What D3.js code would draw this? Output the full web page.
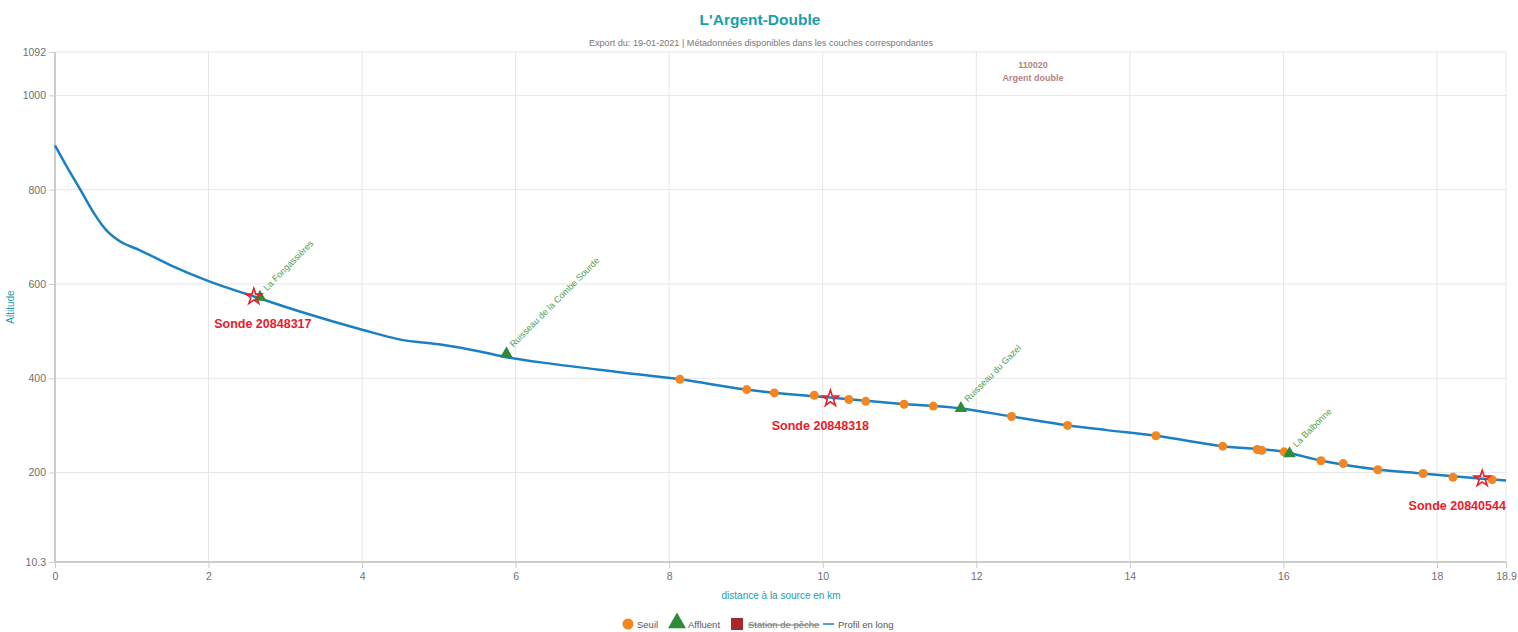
<!DOCTYPE html>
<html>
<head>
<meta charset="utf-8">
<script src="https://cdn.jsdelivr.net/npm/d3@7"></script>
<style>
  html, body { margin: 0; padding: 0; background: #fff; }
  svg { display: block; font-family: "Liberation Sans", Arial, sans-serif; }
</style>
</head>
<body>
<svg id="chart" width="1518" height="632"></svg>
<script>
// Longitudinal profile of the river: distance from source (km) and altitude (m)
const profileKm  = [0, 0.15, 0.33, 0.5, 0.68, 0.85, 1.1, 1.5, 2.0, 2.6, 3.2, 4.0, 4.5, 5.0, 5.5, 5.9, 6.5, 7.3, 8.14, 9.0, 10.1, 11.0, 11.8, 12.46, 13.2, 13.7, 14.34, 15.2, 16.0, 16.5, 17.2, 17.8, 18.6, 18.9];
const profileAlt = [894, 850, 800, 752, 712, 690, 672, 640, 606, 573, 541, 503, 482, 472, 458, 444, 430, 414, 398, 376, 359, 346, 336, 319, 300, 290, 278, 256, 244, 225, 207, 198, 187, 183];

// Weirs (Seuil)
const seuilKm  = [8.14, 9.01, 9.37, 9.89, 10.34, 10.56, 11.06, 11.44, 12.46, 13.19, 14.34, 15.21, 15.66, 15.72, 16.01, 16.49, 16.78, 17.23, 17.82, 18.21, 18.72];
const seuilAlt = [398, 376, 369, 364, 355, 351, 345, 341, 319, 300, 278, 256, 249, 247, 244, 225, 219, 206, 198, 190, 185];

// Tributaries (Affluent)
const affluentNames = ["La Fongassières", "Ruisseau de la Combe Sourde", "Ruisseau du Gazel", "La Balbonne"];
const affluentKm    = [2.67, 5.88, 11.8, 16.08];
const affluentAlt   = [572, 452, 336, 240];

// Temperature probes (Sonde)
const sondeNames = ["Sonde 20848317", "Sonde 20848318", "Sonde 20840544"];
const sondeKm    = [2.59, 10.1, 18.59];
const sondeAlt   = [573, 357, 187];

// Axis ticks
const xTicks = [0, 2, 4, 6, 8, 10, 12, 14, 16, 18, 18.9];
const yTicks = [10.3, 200, 400, 600, 800, 1000, 1092];

// Legend entries
const legendLabels = ["Seuil", "Affluent", "Station de pêche", "Profil en long"];

// Label layout (horizontal shift of each probe label)
const sondeLabelDx = [9, -10, -25];

const colors = {
  line: "#1b7fc4", seuil: "#f5861f", affluent: "#2e8b3a", station: "#a52a2a",
  sonde: "#e8202a", teal: "#1a9eab", grid: "#e6e6e6", axis: "#cccccc", tick: "#707070"
};

const svg = d3.select("#chart");
const margin = { left: 55, right: 1506, top: 52, bottom: 562 };

const x = d3.scaleLinear().domain([0, 18.9]).range([margin.left, margin.right]);
const y = d3.scaleLinear().domain([10.3, 1092]).range([margin.bottom, margin.top]);

// Title and subtitle
svg.append("text").attr("x", 760).attr("y", 25).attr("text-anchor", "middle")
  .attr("font-size", 15.5).attr("font-weight", "bold").attr("fill", colors.teal)
  .text("L'Argent-Double");
svg.append("text").attr("x", 761).attr("y", 46).attr("text-anchor", "middle")
  .attr("font-size", 9.1).attr("fill", "#777")
  .text("Export du: 19-01-2021 | Métadonnées disponibles dans les couches correspondantes");

// Grid lines
const grid = svg.append("g");
grid.selectAll("line.v").data(xTicks.slice(1)).join("line")
  .attr("x1", d => x(d)).attr("x2", d => x(d))
  .attr("y1", margin.top).attr("y2", margin.bottom)
  .attr("stroke", colors.grid).attr("stroke-width", 1);
grid.selectAll("line.h").data(yTicks.slice(1)).join("line")
  .attr("x1", margin.left).attr("x2", margin.right)
  .attr("y1", d => y(d)).attr("y2", d => y(d))
  .attr("stroke", colors.grid).attr("stroke-width", 1);

// Axes
const xAxis = d3.axisBottom(x).tickValues(xTicks).tickSize(6).tickPadding(5)
  .tickFormat(d => d3.format("~g")(d));
const gx = svg.append("g").attr("transform", `translate(0,${margin.bottom})`).call(xAxis);
const yAxis = d3.axisLeft(y).tickValues(yTicks).tickSize(6).tickPadding(3)
  .tickFormat(d => d3.format("~g")(d));
const gy = svg.append("g").attr("transform", `translate(${margin.left},0)`).call(yAxis);
[gx, gy].forEach(g => {
  g.select(".domain").attr("stroke", colors.axis).attr("stroke-width", 2);
  g.selectAll(".tick line").attr("stroke", colors.axis);
  g.selectAll(".tick text").attr("fill", colors.tick).attr("font-size", 10.5)
    .attr("font-family", "Liberation Sans, Arial, sans-serif");
});
gy.select(".domain").attr("d", `M0,${margin.top}V${margin.bottom}`);
gx.select(".domain").attr("d", `M${margin.left},0H${margin.right}`);

// Axis titles
svg.append("text").attr("transform", `translate(14,307) rotate(-90)`)
  .attr("text-anchor", "middle").attr("font-size", 10).attr("fill", colors.teal)
  .text("Altitude");
svg.append("text").attr("x", 781).attr("y", 599).attr("text-anchor", "middle")
  .attr("font-size", 10).attr("fill", colors.teal)
  .text("distance à la source en km");

// Water body code annotation
svg.append("text").attr("x", 1033).attr("y", 68).attr("text-anchor", "middle")
  .attr("font-size", 9).attr("font-weight", "bold").attr("fill", "#b58282").text("110020");
svg.append("text").attr("x", 1033).attr("y", 81).attr("text-anchor", "middle")
  .attr("font-size", 9).attr("font-weight", "bold").attr("fill", "#b58282").text("Argent double");

// Profile line
const profile = profileKm.map((k, i) => [k, profileAlt[i]]);
const line = d3.line().x(d => x(d[0])).y(d => y(d[1])).curve(d3.curveMonotoneX);
svg.append("path").datum(profile).attr("d", line)
  .attr("fill", "none").attr("stroke", colors.line).attr("stroke-width", 2.5);

// Weirs
svg.append("g").selectAll("circle").data(seuilKm.map((k, i) => [k, seuilAlt[i]])).join("circle")
  .attr("cx", d => x(d[0])).attr("cy", d => y(d[1])).attr("r", 4.5)
  .attr("fill", colors.seuil);

// Tributaries
const tri = d3.symbol().type(d3.symbolTriangle).size(70);
const aff = svg.append("g").selectAll("g").data(affluentNames.map((n, i) => ({ n, k: affluentKm[i], a: affluentAlt[i] }))).join("g")
  .attr("transform", d => `translate(${x(d.k)},${y(d.a)})`);
aff.append("path").attr("d", tri).attr("fill", colors.affluent);
aff.append("text").attr("transform", "translate(7,-6) rotate(-45)")
  .attr("font-size", 9).attr("fill", "#4f9e4f").text(d => d.n);

// Probes
const star = d3.symbol().type(d3.symbolStar).size(80);
const sondes = svg.append("g").selectAll("g").data(sondeNames.map((n, i) => ({ n, k: sondeKm[i], a: sondeAlt[i], dx: sondeLabelDx[i] }))).join("g")
  .attr("transform", d => `translate(${x(d.k)},${y(d.a)})`);
sondes.append("path").attr("d", star).attr("fill", "none")
  .attr("stroke", colors.sonde).attr("stroke-width", 1.6);
sondes.append("text").attr("x", d => d.dx).attr("y", 31).attr("text-anchor", "middle")
  .attr("font-size", 12.5).attr("font-weight", "bold").attr("fill", colors.sonde)
  .text(d => d.n);

// Legend
const lg = svg.append("g").attr("font-size", 9.5).attr("fill", "#555");
lg.append("circle").attr("cx", 628).attr("cy", 624).attr("r", 5.5).attr("fill", colors.seuil);
lg.append("text").attr("x", 637).attr("y", 628).text(legendLabels[0]);
lg.append("path").attr("d", d3.symbol().type(d3.symbolTriangle).size(140))
  .attr("transform", "translate(677,623)").attr("fill", colors.affluent);
lg.append("text").attr("x", 688).attr("y", 628).text(legendLabels[1]);
lg.append("rect").attr("x", 731).attr("y", 618).attr("width", 12).attr("height", 12).attr("fill", colors.station);
lg.append("text").attr("x", 748).attr("y", 628).attr("text-decoration", "line-through")
  .attr("fill", "#777").text(legendLabels[2]);
lg.append("line").attr("x1", 823).attr("x2", 834).attr("y1", 624).attr("y2", 624)
  .attr("stroke", colors.line).attr("stroke-width", 1.5);
lg.append("text").attr("x", 838).attr("y", 628).text(legendLabels[3]);
</script>
</body>
</html>
